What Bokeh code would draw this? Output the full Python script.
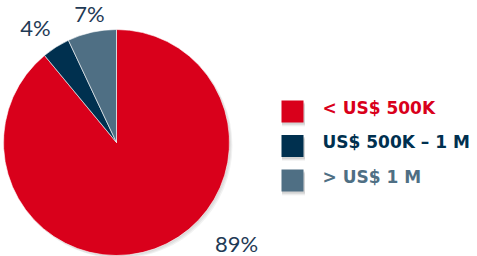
import math
from bokeh.plotting import figure
from bokeh.models import Range1d, ColumnDataSource
from bokeh.core.properties import value
from bokeh.embed import file_html
from bokeh.resources import INLINE

# ---- data ----
categories = ["< US$ 500K", "US$ 500K – 1 M", "> US$ 1 M"]
shares = [89, 4, 7]
pct_labels = ["89%", "4%", "7%"]

# ---- styles / layout ----
colors = ["#D9001B", "#00304F", "#4F6F84"]
label_color = "#1F3A55"
W, H = 477, 256  # page-pixel frame used for coordinates (y = H - page_y)
cx, cy, r = 116, H - 142, 113
label_pos = [(236, H - 243), (35, H - 27), (89, H - 13)]
leg_x, leg_y0, leg_dy, sq = 292, H - 111, 34.5, 22
leg_text_x = 322

p = figure(width=W, height=H, output_backend="svg", toolbar_location=None,
           x_range=Range1d(0, W), y_range=Range1d(0, H),
           min_border=0)
p.axis.visible = False
p.grid.visible = False
p.outline_line_color = None
p.background_fill_color = "white"

total = sum(shares)
starts, ends = [], []
acc = 0.0
for s in shares:
    starts.append(math.pi / 2 - 2 * math.pi * acc / total)
    acc += s
    ends.append(math.pi / 2 - 2 * math.pi * acc / total)

# soft shadow of the pie
for k, a in enumerate([0.05, 0.05, 0.05]):
    p.circle(x=[cx + 1 + k], y=[cy - 1 - k], radius=r, fill_color="#000000",
             fill_alpha=a, line_color=None)

src = ColumnDataSource(dict(cat=categories, start=starts, end=ends, color=colors))
p.wedge(x=cx, y=cy, radius=r, start_angle="start", end_angle="end",
        direction="clock", fill_color="color", line_color="white",
        line_width=0.6, source=src)

p.text(x=[q[0] for q in label_pos], y=[q[1] for q in label_pos], text=pct_labels,
       text_font=value("Lato"), text_font_size="22px", text_color=label_color,
       text_align="center", text_baseline="middle")

# legend
ly = [leg_y0 - i * leg_dy for i in range(len(categories))]
for k, a in enumerate([0.08, 0.06, 0.04]):
    p.rect(x=[leg_x + 1] * 3, y=[v - 2 - k for v in ly], width=sq + 1, height=sq,
           fill_color="#000000", fill_alpha=a, line_color=None)
p.rect(x=[leg_x] * 3, y=ly, width=sq, height=sq, fill_color=colors, line_color=None)
p.text(x=[leg_text_x] * 3, y=[v + 4 for v in ly], text=categories,
       text_font=value("DejaVu Sans"),
       text_font_style="bold", text_font_size="17px", text_color=colors,
       text_align="left", text_baseline="middle")

open("out.html", "w").write(file_html(p, INLINE))
